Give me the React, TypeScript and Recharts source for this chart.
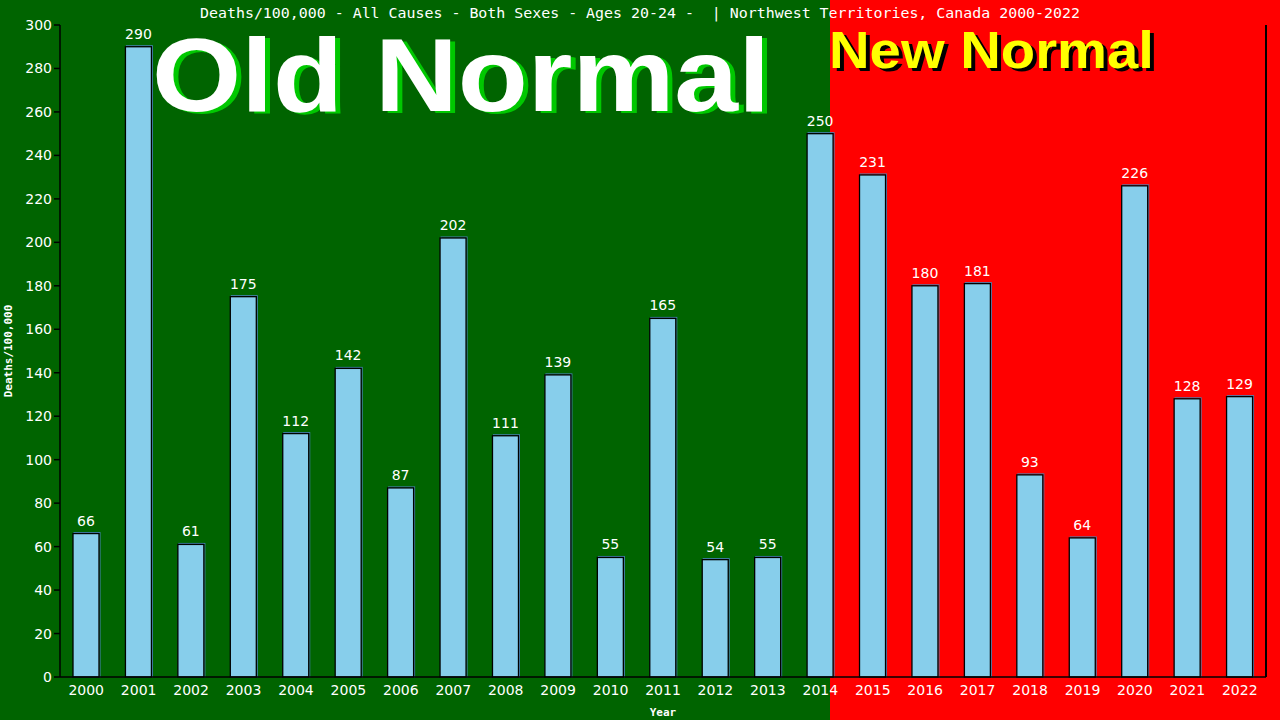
import { BarChart, Bar, XAxis, YAxis, LabelList } from "recharts";

const years = [
  "2000", "2001", "2002", "2003", "2004", "2005", "2006", "2007", "2008", "2009", "2010", "2011",
  "2012", "2013", "2014", "2015", "2016", "2017", "2018", "2019", "2020", "2021", "2022",
];
const deaths = [66, 290, 61, 175, 112, 142, 87, 202, 111, 139, 55, 165, 54, 55, 250, 231, 180, 181, 93, 64, 226, 128, 129];
const yTicks = [0, 20, 40, 60, 80, 100, 120, 140, 160, 180, 200, 220, 240, 260, 280, 300];

const title =
  "Deaths/100,000 - All Causes - Both Sexes - Ages 20-24 -  | Northwest Territories, Canada 2000-2022";

const data = years.map((year, i) => ({ year, value: deaths[i] }));

const mono = "'DejaVu Sans Mono', monospace";
const sans = "'DejaVu Sans', sans-serif";

// sky blue bar, black outline, thin steel-blue edge on top/right
function renderBar(props: any) {
  const { x, y, width, height } = props;
  return (
    <g>
      <rect x={x + 1} y={y - 1} width={width} height={height + 1} fill="none" stroke="#4682b4" strokeWidth={1} />
      <rect x={x} y={y} width={width} height={height} fill="#87ceeb" stroke="#000" strokeWidth={1.3} />
    </g>
  );
}

export default function App() {
  return (
    <div
      style={{
        position: "absolute",
        left: 0,
        top: 0,
        width: 1280,
        height: 720,
        background: "linear-gradient(to right, #006400 0px, #006400 830px, #ff0000 830px, #ff0000 1280px)",
      }}
    >
      <BarChart width={1280} height={720} data={data} margin={{ top: 25, right: 14, bottom: 0, left: 0 }}>
        <XAxis
          dataKey="year"
          height={43}
          tickLine={false}
          axisLine={{ stroke: "#000", strokeWidth: 1.5 }}
          tick={{ fill: "#fff", fontSize: 14, fontFamily: sans }}
          interval={0}
          label={{
            value: "Year",
            position: "insideBottom",
            offset: 4,
            fill: "#fff",
            fontSize: 11,
            fontWeight: "bold",
            fontFamily: mono,
          }}
        />
        <YAxis
          width={60}
          domain={[0, 300]}
          ticks={yTicks}
          tickLine={{ stroke: "#000", strokeWidth: 1.5 }}
          axisLine={{ stroke: "#000", strokeWidth: 1.5 }}
          tick={{ fill: "#fff", fontSize: 14, fontFamily: sans }}
          label={{
            value: "Deaths/100,000",
            angle: -90,
            position: "insideLeft",
            offset: 8,
            fill: "#fff",
            fontSize: 11,
            fontWeight: "bold",
            fontFamily: mono,
            style: { textAnchor: "middle" },
          }}
        />
        <Bar dataKey="value" barSize={26} fill="#87ceeb" shape={renderBar} isAnimationActive={false}>
          <LabelList dataKey="value" position="top" offset={8} fill="#fff" fontSize={14} fontFamily={sans} />
        </Bar>
      </BarChart>

      <div style={{ position: "absolute", left: 1265, top: 25, width: 1.5, height: 652, background: "#000" }} />

      <svg
        width={1280}
        height={720}
        style={{ position: "absolute", left: 0, top: 0, pointerEvents: "none" }}
      >
        <text
          x={200}
          y={18}
          textLength={880}
          lengthAdjust="spacingAndGlyphs"
          fill="#fff"
          fontSize={14}
          fontFamily={mono}
          style={{ whiteSpace: "pre" }}
        >
          {title}
        </text>
        <g fontFamily="'Liberation Sans', Arial, sans-serif" fontWeight="bold">
          <text x={157} y={113} textLength={618} lengthAdjust="spacingAndGlyphs" fontSize={104} fill="#00c800">
            Old Normal
          </text>
          <text x={152} y={111} textLength={618} lengthAdjust="spacingAndGlyphs" fontSize={104} fill="#fff">
            Old Normal
          </text>
          <text x={833} y={71} textLength={325} lengthAdjust="spacingAndGlyphs" fontSize={52} fill="#000">
            New Normal
          </text>
          <text x={829} y={68} textLength={325} lengthAdjust="spacingAndGlyphs" fontSize={52} fill="#ffff00">
            New Normal
          </text>
        </g>
      </svg>
    </div>
  );
}
